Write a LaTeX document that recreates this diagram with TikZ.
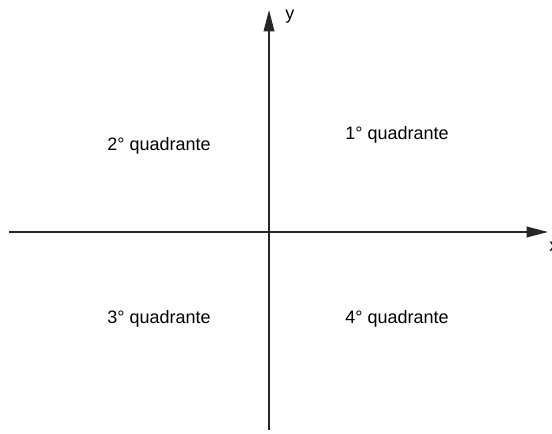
\documentclass[tikz,border=0pt]{standalone}
\usepackage{fontspec}
\setmainfont{Liberation Sans}
\usetikzlibrary{arrows.meta, positioning}

\begin{document}
\begin{tikzpicture}[
    x=0.75pt, y=-0.75pt,
    axis/.style={-{Triangle[length=16pt, width=8pt]}, line width=1.1pt, color=black!85},
    quad/.style={font=\fontsize{13.5}{16}\selectfont, inner sep=0pt, anchor=base},
    lbl/.style={font=\fontsize{13.5}{16}\selectfont, inner sep=0pt, anchor=base west},
]
    \useasboundingbox (0,0) rectangle (552,434);
    \coordinate (west)  at (9,232);
    \coordinate (east)  at (548,232);
    \coordinate (south) at (269,430);
    \coordinate (north) at (269,10);

    \draw[axis] (west) -- (east);
    \draw[axis] (south) -- (north);

    \node[lbl] (xlab) at (549,252) {x};
    \node[lbl] (ylab) at (285,20) {y};

    \node[quad] (q1) at (397,140) {1° quadrante};
    \node[quad] (q2) at (159,151) {2° quadrante};
    \node[quad] (q3) at (159,323) {3° quadrante};
    \node[quad] (q4) at (397,323) {4° quadrante};
\end{tikzpicture}
\end{document}
